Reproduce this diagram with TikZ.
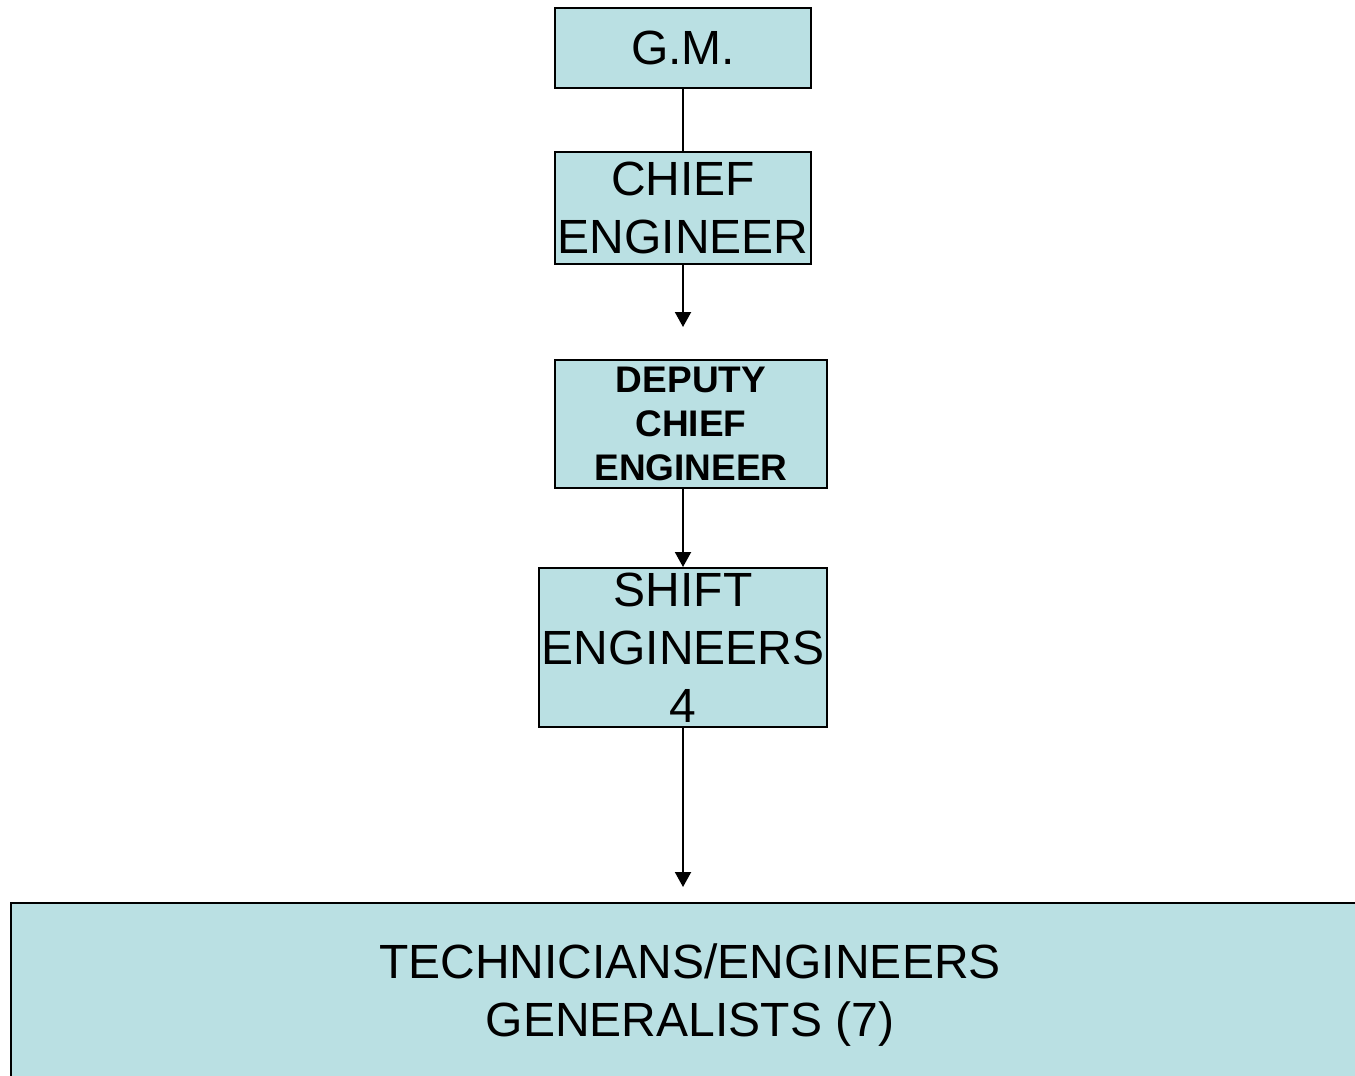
\documentclass[tikz,border=0pt]{standalone}
\usepackage{fontspec}
\setmainfont{Liberation Sans}
\usetikzlibrary{arrows.meta}
\definecolor{boxfill}{RGB}{186,224,227}
\tikzset{
  orgbox/.style={draw=black, line width=2pt, fill=boxfill, inner sep=0pt,
    align=center, font=\fontsize{48}{58}\selectfont},
  boldbox/.style={orgbox, font=\fontsize{37}{44}\selectfont\bfseries},
  link/.style={line width=2pt, draw=black},
  linkarrow/.style={link, -{Triangle[width=16pt,length=15pt]}}
}
\begin{document}
\begin{tikzpicture}[x=1pt, y=-1pt]
  \useasboundingbox (0,0) rectangle (1355,1076);
  \clip (0,0) rectangle (1355,1076);

  % organisation levels
  \node[orgbox, minimum width=256pt, minimum height=80pt] (gm) at (683,48) {G.M.};
  \node[orgbox, minimum width=256pt, minimum height=112pt] (chief) at (683,208) {CHIEF\\ENGINEER};
  \node[boldbox, minimum width=272pt, minimum height=128pt] (deputy) at (691,424) {DEPUTY\\CHIEF\\ENGINEER};
  \node[orgbox, minimum width=288pt, minimum height=159pt] (shift) at (683,647.5) {SHIFT\\ENGINEERS\\4};
  \node[orgbox, minimum width=1358pt, minimum height=184pt] (staff) at (690,995) {TECHNICIANS/ENGINEERS\\GENERALISTS (7)};

  % free arrow ends
  \coordinate (a1) at (683,327);
  \coordinate (a2) at (683,887);

  % reporting lines
  \draw[link] (gm.south) -- (chief.north);
  \draw[linkarrow] (chief.south) -- (a1);
  \draw[linkarrow] (deputy.south -| chief.south) -- (shift.north);
  \draw[linkarrow] (shift.south) -- (a2);
\end{tikzpicture}
\end{document}
